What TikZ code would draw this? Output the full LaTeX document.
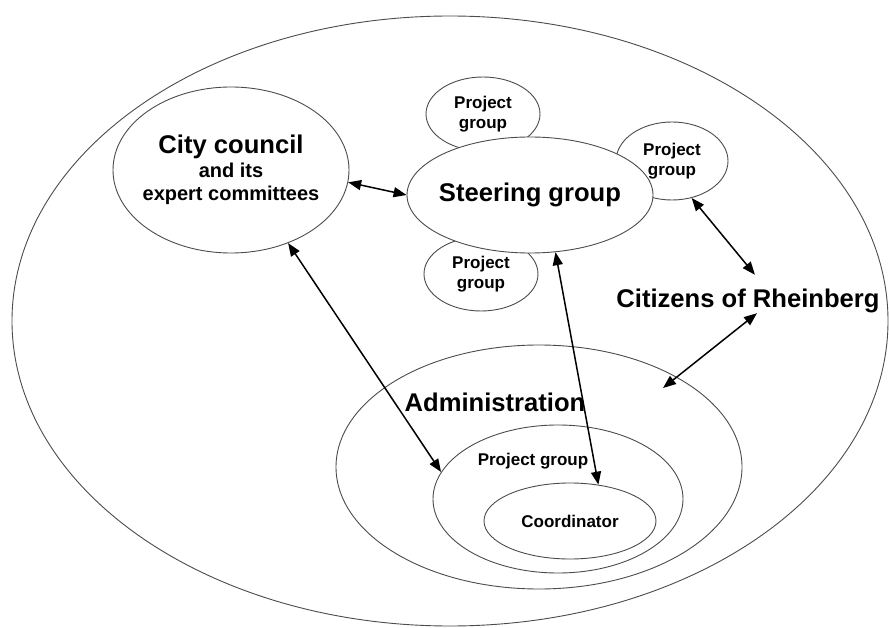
\documentclass[tikz,border=0pt]{standalone}
\usepackage{fontspec}
\setmainfont{Liberation Sans}
\usetikzlibrary{shapes.geometric,arrows.meta}
\begin{document}
\begin{tikzpicture}[x=1pt,y=-1pt,
  oval/.style={draw=black!70, line width=0.9pt, ellipse, inner sep=0pt, fill=white},
  big/.style={font=\bfseries\fontsize{25.6}{30}\selectfont, inner sep=0pt},
  mid/.style={font=\bfseries\fontsize{20}{23.5}\selectfont, align=center, inner sep=0pt},
  small/.style={font=\bfseries\fontsize{17}{20}\selectfont, align=center, inner sep=0pt},
  dbl/.style={line width=1.5pt, {Triangle[length=13pt,width=10pt]}-{Triangle[length=13pt,width=10pt]}}
]
\useasboundingbox (0,0) rectangle (889,628);
% outer frame
\node[oval, minimum width=876pt, minimum height=610pt] (world) at (450,321) {};
% city council
\node[oval, minimum width=236pt, minimum height=166pt,
  label={[mid]center:{{\fontsize{25.6}{28}\selectfont City council}\\and its\\expert committees}}] (city) at (231,170) {};
% project groups around steering group
\node[oval, minimum width=114pt, minimum height=74pt,
  label={[small]center:{Project\\group}}] (pgT) at (483,114) {};
\node[oval, minimum width=112pt, minimum height=78pt,
  label={[small]center:{Project\\group}}] (pgR) at (672,161) {};
\node[oval, minimum width=114pt, minimum height=74pt,
  label={[small]center:{Project\\group}}] (pgB) at (481,274) {};
% steering group
\node[oval, minimum width=246pt, minimum height=116pt,
  label={[big]center:Steering group}] (steer) at (530,195) {};
% citizens
\node[big] (cit) at (748,301) {Citizens of Rheinberg};
% administration
\node[oval, minimum width=406pt, minimum height=244pt] (admin) at (539,467) {};
\node[big] (admtext) at (495,402) {Administration};
\node[oval, minimum width=250pt, minimum height=148pt] (ipg) at (558,499) {};
\node[small] (ipgtext) at (533,461) {Project group};
\node[oval, minimum width=172pt, minimum height=76pt,
  label={[small]center:Coordinator}] (coord) at (570,521) {};
\coordinate (admin-in) at (663,388);
% connectors
\draw[dbl] (city.-6) -- (steer.180);
\draw[dbl] (city.-52) -- (ipg.167);
\draw[dbl] (steer.-66) -- (coord.52);
\draw[dbl] (pgR.-62) -- ([xshift=7pt,yshift=14pt]cit.north);
\draw[dbl] ([xshift=9pt]cit.south) -- (admin-in);
\end{tikzpicture}
\end{document}
